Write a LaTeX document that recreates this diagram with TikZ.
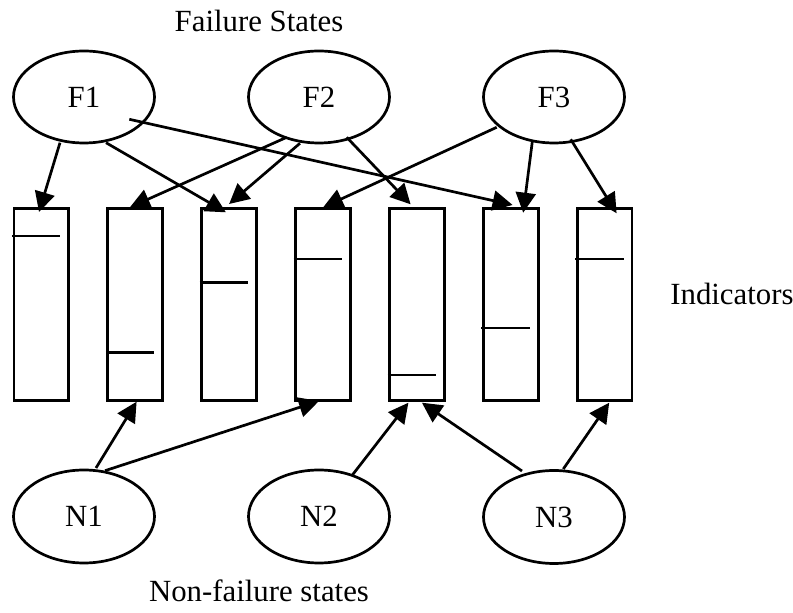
\documentclass[tikz,border=0pt]{standalone}
\usepackage{fontspec}
\setmainfont{Liberation Serif}
\usetikzlibrary{shapes.geometric,arrows.meta,calc}
\begin{document}
\begin{tikzpicture}[x=0.5pt,y=-0.5pt,line width=1.35pt,
    font=\fontsize{15.4pt}{18pt}\selectfont,
    state/.style={ellipse,draw,minimum width=70.5pt,minimum height=46pt,inner sep=0pt,outer sep=0pt},
    indicator/.style={rectangle,draw,minimum width=27.4pt,minimum height=96pt,inner sep=0pt,outer sep=0pt},
    arr/.style={-{Triangle[length=10pt,width=10pt]}}]
  \useasboundingbox (0,0) rectangle (793,613);
  \node[anchor=base] (fail) at (259,31.7) {Failure States};
  \node[anchor=base] (nonfail) at (259,602) {Non-failure states};
  \node[anchor=base west,inner sep=0pt] (ind) at (669,305) {Indicators};
  \node[state] (F1) at (84,97) {F1};
  \node[state] (F2) at (319,97) {F2};
  \node[state] (F3) at (554,97) {F3};
  \node[state,minimum height=46.5pt] (N1) at (84,516.5) {N1};
  \node[state,minimum height=46.5pt] (N2) at (319,516.5) {N2};
  \node[state,minimum height=46.5pt] (N3) at (554,517) {N3};
  \foreach \i/\t in {1/27.3,2/144,3/74,4/50.3,5/166.3,6/119.3,7/50.3} {
    \node[indicator] (R\i) at ({41.3+93.9*(\i-1)},304.7) {};
    \draw ($(R\i.north west)+(-2,\t)$) -- ++(48.5,0);
  }
  \draw[arr] ($(F1)+(-24,45.7)$) -- ($(R1.north)+(-2.3,3.3)$);
  \draw[arr] ($(F1)+(22,45.7)$) -- ($(R3.north)+(-3.2,3.6)$);
  \draw[arr] ($(F1)+(45.3,22.3)$) -- ($(R6.north)+(1.8,-3.7)$);
  \draw[arr] ($(F2)+(-32.3,40.3)$) -- ($(R2.north)+(-5.3,-1.4)$);
  \draw[arr] ($(F2)+(-19,46.3)$) -- ($(R3.north)+(0,-4.7)$);
  \draw[arr] ($(F2)+(27.7,40.3)$) -- ($(R5.north)+(-6.3,-4.4)$);
  \draw[arr] ($(F3)+(-57.3,30.3)$) -- ($(R4.north)+(0.2,-1.4)$);
  \draw[arr] ($(F3)+(-21.7,44.7)$) -- ($(R6.north)+(12.4,4)$);
  \draw[arr] ($(F3)+(16.7,42.3)$) -- ($(R7.north)+(11.9,4.6)$);
  \draw[arr] ($(N1)+(12,-48.5)$) -- ($(R2.south)+(1.4,1)$);
  \draw[arr] ($(N1)+(21,-45.8)$) -- ($(R4.south)+(-4,0.3)$);
  \draw[arr] ($(N2)+(33,-41)$) -- ($(R5.south)+(-8.5,2)$);
  \draw[arr] ($(N3)+(-32,-46)$) -- ($(R5.south)+(5,2)$);
  \draw[arr] ($(N3)+(9.3,-48)$) -- ($(R7.south)+(4.5,2)$);
\end{tikzpicture}
\end{document}
